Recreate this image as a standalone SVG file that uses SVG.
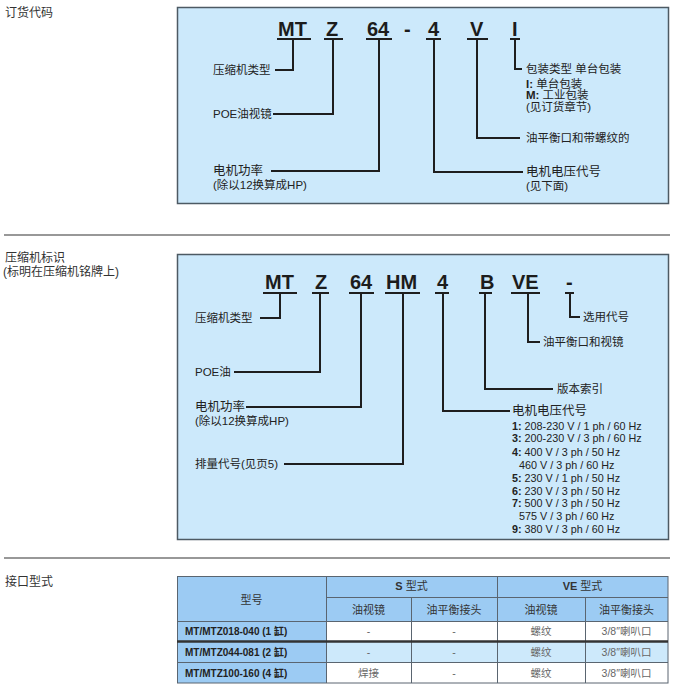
<svg xmlns="http://www.w3.org/2000/svg" width="674" height="690" viewBox="0 0 674 690">
<style>
text{font-family:"Liberation Sans","Noto Sans CJK SC",sans-serif;fill:#222}
.code{font-size:20px;font-weight:bold;fill:#1c1c1c}
.lbl{font-size:11.5px}
.big{font-size:12.5px}
.vl{font-size:10.8px}
.b{font-weight:bold}
.sec{font-size:12px;fill:#333}
.panel{fill:#cce9fb;stroke:#4d5a63;stroke-width:1.5}
.conn{stroke:#1e1e1e;stroke-width:2;fill:none}
.sep{stroke:#333;stroke-width:1.2}
.hd{fill:#9ccbf3}
.lt{fill:#cde9fb}
.wt{fill:#ffffff}
.grid{stroke:#5a6570;stroke-width:1;fill:none}
.th{font-size:11px;fill:#333;text-anchor:middle}
.tc{font-size:10.5px;fill:#666;text-anchor:middle}
.tm{font-size:10px;font-weight:bold;fill:#222}
</style>

<g id="section-labels">
<text class="sec" x="5" y="17">订货代码</text>
<text class="sec" x="5" y="262">压缩机标识</text>
<text class="sec" x="3" y="276">(标明在压缩机铭牌上)</text>
<text class="sec" x="5" y="586">接口型式</text>
<line class="sep" x1="4" y1="235" x2="670" y2="235"/>
<line class="sep" x1="4" y1="558" x2="670" y2="558"/>
</g>

<g id="panel-order">
<rect class="panel" x="177.5" y="7.5" width="491" height="196"/>
</g>
<g id="panel-ident">
<rect class="panel" x="177.5" y="254.5" width="491" height="285"/>
</g>

<g id="order-code">
<text class="code" x="278" y="36">MT</text>
<text class="code" x="326" y="36">Z</text>
<text class="code" x="367" y="36">64</text>
<text class="code" x="404" y="36">-</text>
<text class="code" x="428" y="36">4</text>
<text class="code" x="470" y="36">V</text>
<text class="code" x="512" y="36">I</text>
</g>

<g id="order-labels">
<text class="lbl" x="213" y="74">压缩机类型</text>
<text class="lbl" x="213" y="118">POE油视镜</text>
<text class="big" x="213" y="175">电机功率</text>
<text class="lbl" x="213" y="189">(除以12换算成HP)</text>
<text class="lbl" x="526" y="73">包装类型 单台包装</text>
<text class="lbl" x="526" y="88"><tspan class="b">I:</tspan> 单台包装</text>
<text class="lbl" x="526" y="99"><tspan class="b">M:</tspan> 工业包装</text>
<text class="lbl" x="526" y="111">(见订货章节)</text>
<text class="lbl" x="526" y="142">油平衡口和带螺纹的</text>
<text class="big" x="526" y="176">电机电压代号</text>
<text class="lbl" x="526" y="190">(见下面)</text>
</g>

<g id="ident-code">
<text class="code" x="265" y="289">MT</text>
<text class="code" x="315" y="289">Z</text>
<text class="code" x="350" y="289">64</text>
<text class="code" x="386" y="289">HM</text>
<text class="code" x="437" y="289">4</text>
<text class="code" x="480" y="289">B</text>
<text class="code" x="512" y="289">VE</text>
<text class="code" x="566" y="289">-</text>
</g>

<g id="ident-labels">
<text class="lbl" x="195" y="322">压缩机类型</text>
<text class="lbl" x="195" y="376">POE油</text>
<text class="big" x="195" y="411">电机功率</text>
<text class="lbl" x="195" y="425">(除以12换算成HP)</text>
<text class="lbl" x="195" y="468">排量代号(见页5)</text>
<text class="lbl" x="583" y="321">选用代号</text>
<text class="lbl" x="543" y="346">油平衡口和视镜</text>
<text class="lbl" x="557" y="393">版本索引</text>
<text class="big" x="512" y="415">电机电压代号</text>
<text class="vl" x="512" y="430"><tspan class="b">1:</tspan> 208-230 V / 1 ph / 60 Hz</text>
<text class="vl" x="512" y="442"><tspan class="b">3:</tspan> 200-230 V / 3 ph / 60 Hz</text>
<text class="vl" x="512" y="456"><tspan class="b">4:</tspan> 400 V / 3 ph / 50 Hz</text>
<text class="vl" x="519" y="469">460 V / 3 ph / 60 Hz</text>
<text class="vl" x="512" y="482"><tspan class="b">5:</tspan> 230 V / 1 ph / 50 Hz</text>
<text class="vl" x="512" y="495"><tspan class="b">6:</tspan> 230 V / 3 ph / 50 Hz</text>
<text class="vl" x="512" y="507"><tspan class="b">7:</tspan> 500 V / 3 ph / 50 Hz</text>
<text class="vl" x="519" y="520">575 V / 3 ph / 60 Hz</text>
<text class="vl" x="512" y="533"><tspan class="b">9:</tspan> 380 V / 3 ph / 60 Hz</text>
</g>

<g id="connectors">
<g class="conn">
<path d="M277,39H311M324,39H343M366,39H392M426,39H441M467,39H488M510,39H520"/>
<path d="M293,40V70H275"/>
<path d="M333,40V114H273"/>
<path d="M379,40V171H271"/>
<path d="M434,40V172H523"/>
<path d="M477,40V138H520"/>
<path d="M515,40V69H522"/>
<path d="M263,293H297M312,293H329M349,293H374M385,293H420M435,293H449M479,293H492M511,293H540M565,293H574"/>
<path d="M280,294V318H260"/>
<path d="M320,294V372H234"/>
<path d="M361,294V407H246"/>
<path d="M403,294V464H284"/>
<path d="M443,294V411H510"/>
<path d="M485,294V389H553"/>
<path d="M528,294V342H540"/>
<path d="M570,294V317H580"/>
</g>
</g>

<g id="table">
<rect class="hd" x="177" y="576" width="491" height="45"/>
<rect class="hd" x="177" y="621" width="149" height="62"/>
<rect class="wt" x="326" y="621" width="342" height="20"/>
<rect class="lt" x="326" y="641" width="342" height="21"/>
<rect class="wt" x="326" y="662" width="342" height="21"/>
<g class="grid">
<rect x="177.5" y="576.5" width="490.5" height="106.5"/>
<path d="M326.5,576V683M411.5,597V683M497.5,576V683M585.5,597V683M326,597.5H668M177,621.5H668M177,662.5H668"/>
</g>
<line x1="177" y1="641.5" x2="668" y2="641.5" stroke="#333" stroke-width="2.5"/>
<text class="th" x="251.5" y="604">型号</text>
<text class="th" x="411.5" y="590"><tspan font-weight="bold">S</tspan> 型式</text>
<text class="th" x="582.5" y="590"><tspan font-weight="bold">VE</tspan> 型式</text>
<text class="th" x="368.5" y="614">油视镜</text>
<text class="th" x="454" y="614">油平衡接头</text>
<text class="th" x="541" y="614">油视镜</text>
<text class="th" x="626.5" y="614">油平衡接头</text>
<text class="tm" x="185" y="635">MT/MTZ018-040 (1 缸)</text>
<text class="tm" x="185" y="656">MT/MTZ044-081 (2 缸)</text>
<text class="tm" x="185" y="677">MT/MTZ100-160 (4 缸)</text>
<text class="tc" x="368.5" y="635">-</text>
<text class="tc" x="454" y="635">-</text>
<text class="tc" x="541" y="635">螺纹</text>
<text class="tc" x="626.5" y="635">3/8″喇叭口</text>
<text class="tc" x="368.5" y="656">-</text>
<text class="tc" x="454" y="656">-</text>
<text class="tc" x="541" y="656">螺纹</text>
<text class="tc" x="626.5" y="656">3/8″喇叭口</text>
<text class="tc" x="368.5" y="677">焊接</text>
<text class="tc" x="454" y="677">-</text>
<text class="tc" x="541" y="677">螺纹</text>
<text class="tc" x="626.5" y="677">3/8″喇叭口</text>
</g>
</svg>
